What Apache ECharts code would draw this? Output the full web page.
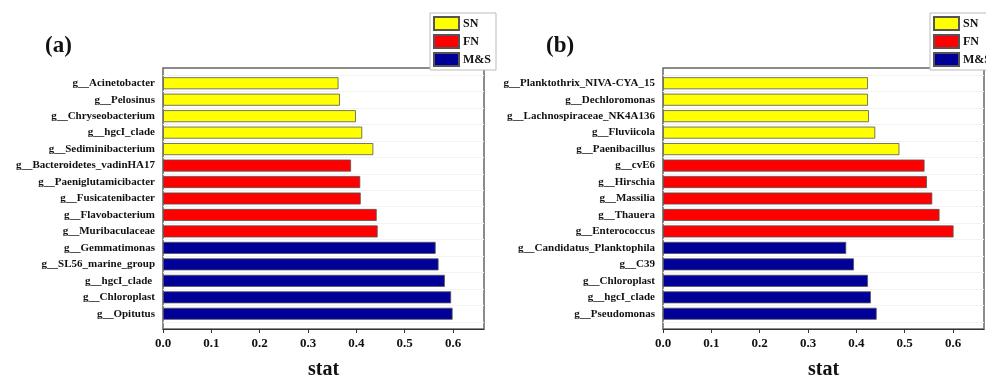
<!DOCTYPE html>
<html>
<head>
<meta charset="utf-8">
<script src="https://cdn.jsdelivr.net/npm/echarts@6/dist/echarts.min.js"></script>
<style>html,body{margin:0;padding:0;background:#fff;}#c{width:986px;height:376px;}</style>
</head>
<body>
<div id="c"></div>
<script>
var catsA = ['g__Acinetobacter','g__Pelosinus','g__Chryseobacterium','g__hgcI_clade','g__Sediminibacterium',
  'g__Bacteroidetes_vadinHA17','g__Paeniglutamicibacter','g__Fusicatenibacter','g__Flavobacterium','g__Muribaculaceae',
  'g__Gemmatimonas','g__SL56_marine_group','g__hgcI_clade ','g__Chloroplast','g__Opitutus'];
var groupA = ['SN','SN','SN','SN','SN','FN','FN','FN','FN','FN','M&S','M&S','M&S','M&S','M&S'];
var valsA = [0.363,0.366,0.399,0.412,0.435,0.389,0.408,0.409,0.442,0.444,0.564,0.570,0.583,0.596,0.599];

var catsB = ['g__Planktothrix_NIVA-CYA_15','g__Dechloromonas','g__Lachnospiraceae_NK4A136','g__Fluviicola','g__Paenibacillus',
  'g__cvE6','g__Hirschia','g__Massilia','g__Thauera','g__Enterococcus',
  'g__Candidatus_Planktophila','g__C39','g__Chloroplast','g__hgcI_clade','g__Pseudomonas'];
var groupB = ['SN','SN','SN','SN','SN','FN','FN','FN','FN','FN','M&S','M&S','M&S','M&S','M&S'];
var valsB = [0.424,0.424,0.426,0.439,0.489,0.541,0.546,0.557,0.572,0.601,0.379,0.395,0.424,0.430,0.442];

var groups = ['SN','FN','M&S'];
var colors = {'SN':'#FFFF00','FN':'#FF0000','M&S':'#000099'};
var xTicks = ['0.0','0.1','0.2','0.3','0.4','0.5','0.6'];

var serif = '"Liberation Serif","Times New Roman",serif';
var XMAX = 0.664;

function frameX(gi){
  return {gridIndex:gi, type:'value', min:0, max:XMAX, interval:0.1,
    axisLine:{show:true, lineStyle:{color:'#333', width:1}},
    axisTick:{show:true, length:4, lineStyle:{color:'#333'}},
    axisLabel:{showMaxLabel:false, color:'#111', fontFamily:serif, fontWeight:'bold', fontSize:13, margin:8,
      formatter:function(v){ var i=Math.round(v*10); return xTicks[i]!==undefined?xTicks[i]:''; }},
    splitLine:{show:false},
    name:'stat', nameLocation:'middle', nameGap:31,
    nameTextStyle:{color:'#111', fontFamily:serif, fontWeight:'bold', fontSize:20}};
}
function dataX(gi){
  return {gridIndex:gi, type:'value', min:0, max:XMAX, show:false, splitLine:{show:false}};
}
function catY(gi, cats){
  return {gridIndex:gi, type:'category', data:cats, inverse:true,
    axisLine:{show:false}, axisTick:{show:false},
    axisLabel:{color:'#111', fontFamily:serif, fontWeight:'bold', fontSize:11, margin:8},
    splitLine:{show:true, lineStyle:{color:'#f3f3f3', width:1}}};
}
function frameY(gi){
  return {gridIndex:gi, type:'value', show:false, splitLine:{show:false}};
}
function makeSeries(vals, grp, xi, yi){
  return groups.map(function(g){
    return {name:g, type:'bar', xAxisIndex:xi, yAxisIndex:yi, barWidth:12, barGap:'-100%',
      itemStyle:{color:colors[g], borderColor:'#555', borderWidth:0.8},
      data: vals.map(function(v,i){ return grp[i]===g ? v : null; })};
  });
}
function legend(left){
  return {data:groups, orient:'vertical', left:left, top:13, itemWidth:25, itemHeight:13, itemGap:3,
    padding:[3,5,3,3], borderColor:'#bbb', borderWidth:1, backgroundColor:'#fff', icon:'rect',
    textStyle:{color:'#111', fontFamily:serif, fontWeight:'bold', fontSize:12, padding:[0,0,0,-1]}};
}
function grid(left, top, h, frame){
  var g = {left:left, top:top, width:321, height:h, outerBoundsMode:'none', containLabel:false};
  if (frame) { g.show = true; g.borderColor = '#666'; g.borderWidth = 1.5; g.backgroundColor = 'transparent'; }
  return g;
}

var chart = echarts.init(document.getElementById('c'), null, {renderer:'canvas'});
chart.setOption({
  animation:false,
  backgroundColor:'#fff',
  title:[
    {text:'(a)', left:40, top:30, textStyle:{fontFamily:serif, fontWeight:'bold', fontSize:23, color:'#111'}},
    {text:'(b)', left:541, top:30, textStyle:{fontFamily:serif, fontWeight:'bold', fontSize:23, color:'#111'}}
  ],
  legend:[legend(430), legend(930)],
  grid:[grid(163,68,261,true), grid(163,75,247,false), grid(663,68,261,true), grid(663,75,247,false)],
  xAxis:[frameX(0), dataX(1), frameX(2), dataX(3)],
  yAxis:[frameY(0), catY(1, catsA), frameY(2), catY(3, catsB)],
  series: makeSeries(valsA, groupA, 1, 1).concat(makeSeries(valsB, groupB, 3, 3))
});
</script>
</body>
</html>
